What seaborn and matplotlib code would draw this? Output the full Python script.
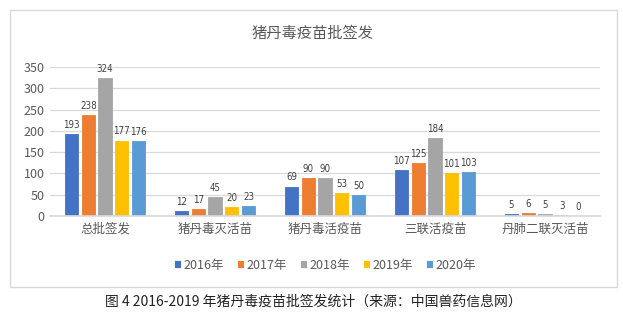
import matplotlib
matplotlib.use("Agg")
import matplotlib.pyplot as plt
import seaborn as sns
import pandas as pd
from matplotlib.patches import Rectangle

categories = ["总批签发", "猪丹毒灭活苗", "猪丹毒活疫苗", "三联活疫苗", "丹肺二联灭活苗"]
years = ["2016年", "2017年", "2018年", "2019年", "2020年"]
v2016 = [193, 12, 69, 107, 5]
v2017 = [238, 17, 90, 125, 6]
v2018 = [324, 45, 90, 184, 5]
v2019 = [177, 20, 53, 101, 3]
v2020 = [176, 23, 50, 103, 0]
colors = ["#4472C4", "#ED7D31", "#A5A5A5", "#FFC000", "#5B9BD5"]

sns.set_theme(style="white")
plt.rcParams['font.family'] = ['Noto Sans CJK SC', 'DejaVu Sans']

series = [v2016, v2017, v2018, v2019, v2020]
rows = []
for y, vals in zip(years, series):
    for c, v in zip(categories, vals):
        rows.append({"cat": c, "year": y, "val": v})
df = pd.DataFrame(rows)

W, H = 623, 321
fig = plt.figure(figsize=(W / 100, H / 100), dpi=100)
fig.patches.append(Rectangle((10 / W, 1 - 287 / H), 607 / W, 277 / H, transform=fig.transFigure,
                             fill=False, edgecolor="#d9d9d9", linewidth=1.0))
ax = fig.add_axes([50 / W, 1 - 216 / H, 550 / W, 149 / H])

sns.barplot(data=df, x="cat", y="val", hue="year", palette=colors, ax=ax,
            width=0.76, gap=0.2, saturation=1, legend=True, linewidth=0.6)
for cont in ax.containers:
    for p in cont.patches:
        p.set_edgecolor(p.get_facecolor())

ax.set_ylim(0, 350)
ax.set_yticks(range(0, 351, 50))
ax.yaxis.grid(True, color="#d9d9d9", linewidth=0.9)
ax.set_axisbelow(True)
for s in ["top", "right", "left"]:
    ax.spines[s].set_visible(False)
ax.spines["bottom"].set_color("#d9d9d9")
ax.set_xlabel("")
ax.set_ylabel("")
ax.tick_params(axis="y", colors="#595959", labelsize=9, length=0, pad=4)
ax.tick_params(axis="x", colors="#595959", labelsize=9, length=0, pad=5)

for cont in ax.containers:
    ax.bar_label(cont, fontsize=7, color="#404040", padding=3,
                 family="DejaVu Sans", fontstretch="condensed")

h, l = ax.get_legend_handles_labels()
ax.legend(h, l, loc="center", bbox_to_anchor=(0.5, -0.33), ncol=5, frameon=False,
          fontsize=9, labelcolor="#595959", handlelength=0.6, handleheight=0.6,
          handletextpad=0.2, columnspacing=1.0)

fig.text(313 / W, 1 - 33 / H, "猪丹毒疫苗批签发", ha="center", va="center", fontsize=11, color="#595959")
fig.text(313 / W, 1 - 302 / H, "图 4 2016-2019 年猪丹毒疫苗批签发统计（来源：中国兽药信息网）",
         ha="center", va="center", fontsize=10, color="#222222")

fig.savefig("out.png", dpi=100)
